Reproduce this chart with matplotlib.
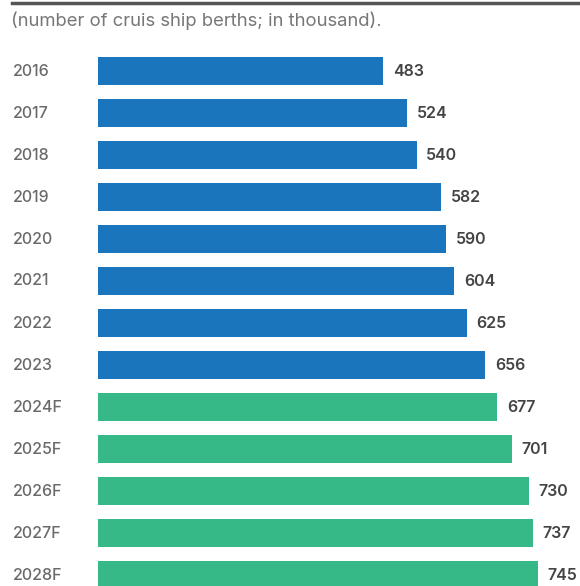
import matplotlib.pyplot as plt
from matplotlib.lines import Line2D

# Data
years = ["2016", "2017", "2018", "2019", "2020", "2021", "2022",
         "2023", "2024F", "2025F", "2026F", "2027F", "2028F"]
berths = [483, 524, 540, 582, 590, 604, 625, 656, 677, 701, 730, 737, 745]
forecast = [False] * 8 + [True] * 5

BLUE = "#1b75bc"
GREEN = "#37b987"

plt.rcParams["font.family"] = ["Inter", "DejaVu Sans"]

W, H = 580, 586
fig = plt.figure(figsize=(W / 100, H / 100), dpi=100)

# axes from x=98px to right edge, y=40px to bottom edge
ax = fig.add_axes([98 / W, 0, 1 - 98 / W, 1 - 40 / H])
colors = [GREEN if f else BLUE for f in forecast]
pos = list(range(len(years)))
ax.barh(pos, berths, height=0.69, color=colors)

for p, v in zip(pos, berths):
    ax.annotate(str(v), (v, p), xytext=(7, 0), textcoords="offset points",
                va="center", ha="left", fontsize=11.5, fontweight="semibold",
                color="#444444")
    ax.text(13 / W, 1 - (71 + 42 * p) / H, years[p], transform=fig.transFigure,
            va="center", ha="left", fontsize=11.5, fontweight="medium",
            color="#6a6a6a")

ax.set_xlim(0, 482 / 0.59)
ax.set_ylim((586 - 71) / 42, (40 - 71) / 42)
ax.axis("off")

# top rule and subtitle
fig.add_artist(Line2D([12 / W, 1], [1 - 3 / H, 1 - 3 / H],
                      transform=fig.transFigure, color="#555555", lw=2.5))
fig.text(11 / W, 1 - 21 / H, "(number of cruis ship berths; in thousand).",
         va="center", ha="left", fontsize=13.3, color="#777777")

fig.savefig("out.png", dpi=100)
